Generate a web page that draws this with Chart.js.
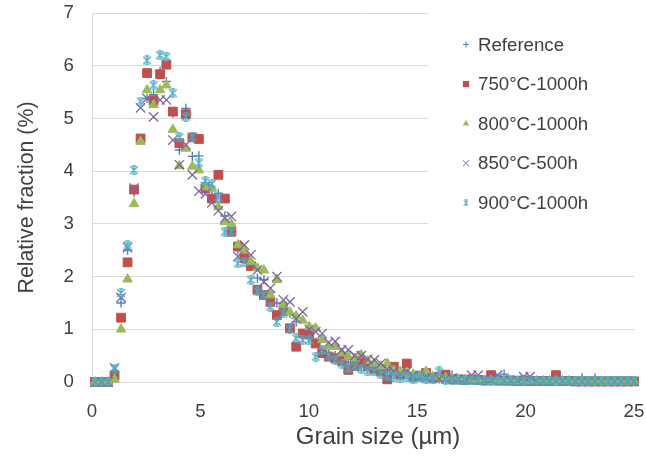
<!DOCTYPE html>
<html><head><meta charset="utf-8">
<script src="https://cdn.jsdelivr.net/npm/chart.js@4.4.1/dist/chart.umd.min.js"></script>
<style>html,body{margin:0;padding:0;background:#fff}canvas{display:block}</style>
</head><body>
<canvas id="c" width="646" height="456"></canvas>
<script>
// ---- data ----
const grainSize = [0.14,0.44,0.74,1.04,1.34,1.64,1.94,2.24,2.54,2.84,
 3.14,3.43,3.73,4.03,4.33,4.63,4.93,5.23,5.53,5.83,
 6.13,6.43,6.73,7.03,7.33,7.63,7.93,8.23,8.53,8.83,
 9.13,9.42,9.72,10.02,10.32,10.62,10.92,11.22,11.52,11.82,
 12.12,12.42,12.72,13.02,13.32,13.62,13.92,14.22,14.52,14.82,
 15.12,15.41,15.71,16.01,16.31,16.61,16.91,17.21,17.51,17.81,
 18.11,18.41,18.71,19.01,19.31,19.61,19.91,20.21,20.51,20.81,
 21.11,21.40,21.70,22.00,22.30,22.60,22.90,23.20,23.50,23.80,
 24.10,24.40,24.70,25.00];

const seriesNames = ['Reference','750°C-1000h','800°C-1000h','850°C-500h','900°C-1000h'];

const reference = [0,0,0,0.2,1.5,2.5,3.6,4.6,5.38,5.45,
 5.9,5.7,5.1,4.4,5.19,4.28,4.29,3.78,3.65,3.58,
 3.15,2.95,2.5,2.4,2.2,1.97,1.94,1.7,1.5,1.45,
 1.3,1.14,0.86,0.85,0.75,0.6,0.55,0.5,0.45,0.38,
 0.35,0.3,0.28,0.25,0.2,0.18,0.15,0.12,0.15,0.1,
 0.1,0.08,0.08,0.06,0.06,0.13,0.05,0.04,0.05,0.03,
 0.03,0.03,0.03,0.15,0.02,0.02,0.02,0.02,0.02,0.02,
 0.02,0.02,0.02,0.02,0.02,0.08,0.02,0.08,0.01,0.01,
 0.01,0.01,0.01,0.01];

const s750 = [0,0,0,0.12,1.22,2.27,3.65,4.62,5.86,5.34,
 5.84,6.02,5.13,4.53,5.08,4.64,4.61,3.67,3.48,3.93,
 3.48,2.85,2.57,2.35,2.2,1.75,1.65,1.52,1.27,1.35,
 1.02,0.67,0.92,0.9,0.73,0.55,0.48,0.45,0.4,0.23,
 0.3,0.39,0.3,0.25,0.2,0.05,0.29,0.15,0.35,0.1,
 0.12,0.17,0.08,0.1,0.14,0.05,0.05,0.04,0.05,0.04,
 0.03,0.13,0.03,0.03,0.03,0.02,0.03,0.02,0.02,0.02,
 0.02,0.13,0.02,0.02,0.01,0.01,0.01,0.01,0.01,0.01,
 0.01,0.01,0.01,0.01];

const s800 = [0,0,0,0.05,1.0,1.95,3.38,4.56,5.54,5.26,
 5.54,5.63,4.79,4.1,4.43,4.09,4.02,3.7,3.67,3.32,
 3.04,3.0,2.6,2.5,2.28,2.16,2.12,1.65,1.94,1.47,
 1.32,1.25,1.17,1.05,1.02,0.8,0.67,0.67,0.55,0.48,
 0.45,0.51,0.4,0.35,0.3,0.35,0.22,0.2,0.18,0.15,
 0.12,0.2,0.1,0.08,0.08,0.06,0.05,0.05,0.04,0.04,
 0.03,0.03,0.03,0.03,0.03,0.02,0.02,0.02,0.02,0.02,
 0.02,0.02,0.02,0.02,0.01,0.01,0.01,0.01,0.01,0.01,
 0.01,0.01,0.01,0.01];

const s850 = [0,0,0,0.27,1.6,2.55,3.68,5.2,5.38,5.03,
 5.35,5.35,4.59,4.12,4.5,3.93,3.62,3.57,3.4,3.25,
 3.11,3.14,2.38,2.6,2.41,2.12,1.9,1.78,2.0,1.56,
 1.52,1.2,1.33,1.0,0.95,0.92,0.75,0.77,0.61,0.61,
 0.5,0.5,0.43,0.42,0.35,0.25,0.2,0.15,0.2,0.12,
 0.1,0.08,0.08,0.06,0.06,0.08,0.05,0.05,0.13,0.13,
 0.04,0.04,0.13,0.03,0.03,0.03,0.1,0.1,0.02,0.02,
 0.02,0.02,0.02,0.02,0.01,0.01,0.01,0.01,0.01,0.01,
 0.01,0.01,0.01,0.01];

const s900 = [0,0,0,0.25,1.69,2.6,4.02,5.32,6.1,5.63,
 6.2,6.17,5.48,4.64,5.03,4.65,4.16,3.81,3.76,3.5,
 2.85,2.85,2.25,2.28,1.94,1.72,1.65,1.43,1.14,1.3,
 1.0,0.83,0.8,0.79,0.48,0.6,0.5,0.42,0.35,0.26,
 0.3,0.25,0.2,0.2,0.15,0.12,0.1,0.08,0.1,0.05,
 0.1,0.05,0.05,0.2,0.04,0.04,0.03,0.03,0.03,0.03,
 0.02,0.02,0.02,0.02,0.02,0.02,0.02,0.02,0.02,0.02,
 0.02,0.02,0.02,0.02,0.01,0.01,0.01,0.01,0.01,0.01,
 0.01,0.01,0.01,0.01];

const xTicks = [0,5,10,15,20,25];
const yTicks = [0,1,2,3,4,5,6,7];
const xTitle = 'Grain size (µm)';
const yTitle = 'Relative fraction (%)';

// ---- styles ----
const FONT = '"Liberation Sans", Arial, sans-serif';
const TEXT = '#404040';

function makeStar(color, s, lw){
  const c = document.createElement('canvas'); c.width = s; c.height = s;
  const g = c.getContext('2d'); g.strokeStyle = color; g.lineWidth = lw;
  const a = 0.8, b = s - 0.8, m = s/2, h = s*0.22;
  g.beginPath();
  g.moveTo(a+0.4,a+0.4); g.lineTo(b-0.4,b-0.4);
  g.moveTo(b-0.4,a+0.4); g.lineTo(a+0.4,b-0.4);
  g.moveTo(m,a); g.lineTo(m,b);
  g.moveTo(m-h,a); g.lineTo(m+h,a);
  g.moveTo(m-h,b); g.lineTo(m+h,b);
  g.stroke();
  return c;
}
const CYAN = '#4BACC6';
const starBig = makeStar(CYAN, 10, 1.3);
const starSmall = makeStar(CYAN, 7, 1.0);

const values = [reference, s750, s800, s850, s900];
const styles = [
  {pointStyle:'cross', color:'#4F81BD', radius:4.6, bw:1.4, lr:3, lbw:1},
  {pointStyle:'rect', color:'#C0504D', radius:6.2, bw:1, lr:4.4, lbw:1},
  {pointStyle:'triangle', color:'#9BBB59', radius:5.5, bw:1, lr:3.8, lbw:1},
  {pointStyle:'crossRot', color:'#8064A2', radius:6.6, bw:1.3, lr:4.4, lbw:1},
  {pointStyle:starBig, color:CYAN, radius:5, bw:1, lr:3.5, lbw:1, legendImg:starSmall}
];

const datasets = seriesNames.map((name, i) => ({
  label: name,
  data: grainSize.map((x, j) => ({x: x, y: values[i][j]})),
  pointStyle: styles[i].pointStyle,
  pointRadius: styles[i].radius,
  pointHoverRadius: styles[i].radius,
  backgroundColor: styles[i].color,
  borderColor: styles[i].color,
  pointBorderWidth: styles[i].bw,
  showLine: false,
  clip: false,
  order: 5 - i
}));

function drawMarker(ctx, st, x, y){
  ctx.save();
  ctx.fillStyle = st.color; ctx.strokeStyle = st.color; ctx.lineWidth = st.lbw;
  const r = st.lr;
  ctx.beginPath();
  if (st.legendImg){ ctx.drawImage(st.legendImg, x - st.legendImg.width/2, y - st.legendImg.height/2); ctx.restore(); return; }
  if (st.pointStyle === 'cross'){ ctx.moveTo(x-r,y); ctx.lineTo(x+r,y); ctx.moveTo(x,y-r); ctx.lineTo(x,y+r); ctx.stroke(); }
  else if (st.pointStyle === 'crossRot'){ const d=r*Math.SQRT1_2; ctx.moveTo(x-d,y-d); ctx.lineTo(x+d,y+d); ctx.moveTo(x+d,y-d); ctx.lineTo(x-d,y+d); ctx.stroke(); }
  else if (st.pointStyle === 'rect'){ const d=r*Math.SQRT1_2; ctx.rect(x-d,y-d,2*d,2*d); ctx.fill(); }
  else if (st.pointStyle === 'triangle'){ const w=r*Math.sin(Math.PI/3); ctx.moveTo(x,y-r); ctx.lineTo(x+w,y+r/2); ctx.lineTo(x-w,y+r/2); ctx.closePath(); ctx.fill(); }
  ctx.restore();
}

const boxLegend = {
  id: 'boxLegend',
  afterDatasetsDraw(chart){
    const ctx = chart.ctx;
    const area = chart.chartArea;
    ctx.save();
    ctx.fillStyle = '#ffffff';
    ctx.fillRect(428, area.top - 2, area.right - 428, 236 - area.top);
    ctx.font = '18.67px ' + FONT;
    ctx.fillStyle = TEXT;
    ctx.textBaseline = 'middle';
    ctx.textAlign = 'left';
    seriesNames.forEach((name, i) => {
      const y = 44.5 + 39.6 * i;
      drawMarker(ctx, styles[i], 466, y);
      ctx.fillStyle = TEXT;
      ctx.fillText(name, 478, y + 1);
    });
    ctx.restore();
  },
  afterDraw(chart){
    const ctx = chart.ctx;
    ctx.save();
    ctx.font = '24px ' + FONT;
    ctx.fillStyle = TEXT;
    ctx.textAlign = 'center';
    ctx.textBaseline = 'middle';
    ctx.fillText(xTitle, 378, 437);
    ctx.restore();
  }
};

new Chart(document.getElementById('c'), {
  type: 'scatter',
  data: { datasets },
  options: {
    responsive: false,
    animation: false,
    events: [],
    layout: { padding: { left: 0, right: 12, top: 13, bottom: 0 } },
    plugins: { legend: { display: false }, tooltip: { enabled: false } },
    scales: {
      x: {
        type: 'linear', min: 0, max: 25,
        afterBuildTicks: (s) => { s.ticks = xTicks.map(v => ({value: v})); },
        afterFit: (s) => { s.height = 74; s.paddingLeft = 0; s.paddingRight = 0; },
        grid: { display: false, drawTicks: false },
        border: { display: true, color: '#d9d9d9', width: 1 },
        ticks: { color: TEXT, font: { family: FONT, size: 18.67 }, padding: 19, maxRotation: 0 },
        title: { display: false, text: xTitle }
      },
      y: {
        type: 'linear', min: 0, max: 7,
        afterBuildTicks: (s) => { s.ticks = yTicks.map(v => ({value: v})); },
        afterFit: (s) => { s.width = 92; s.paddingTop = 0; s.paddingBottom = 0; },
        grid: { color: '#d9d9d9', lineWidth: 1, drawTicks: false },
        border: { display: true, color: '#d9d9d9', width: 1 },
        ticks: { color: TEXT, font: { family: FONT, size: 18.67 }, padding: 18 },
        title: { display: true, text: yTitle, color: TEXT, font: { family: FONT, size: 21.33 }, padding: { top: 14, bottom: 0 } }
      }
    }
  },
  plugins: [boxLegend]
});
</script>
</body></html>
